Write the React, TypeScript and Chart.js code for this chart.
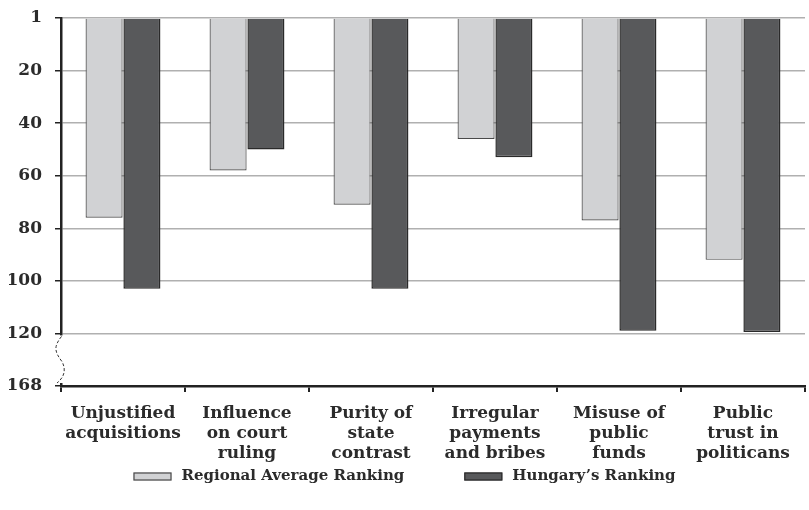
import React, { useEffect, useRef } from "react";
import { Chart, registerables } from "chart.js";

Chart.register(...registerables);

const categories: string[][] = [
  ["Unjustified", "acquisitions"],
  ["Influence", "on court", "ruling"],
  ["Purity of", "state", "contrast"],
  ["Irregular", "payments", "and bribes"],
  ["Misuse of", "public", "funds"],
  ["Public", "trust in", "politicans"],
];

// axis position 0 corresponds to rank "1"; position 140 is the broken-axis end "168"
const regionalAverage: number[] = [76, 58, 71, 46, 77, 92];
const hungaryRanking: number[] = [103, 50, 103, 53, 119, 119.5];

const yTickPositions: number[] = [0, 20, 40, 60, 80, 100, 120, 140];
const yTickLabels: string[] = ["1", "20", "40", "60", "80", "100", "120", "168"];

const seriesLabels: string[] = ["Regional Average Ranking", "Hungary\u2019s Ranking"];

const FONT = "'DejaVu Serif', serif";

const breakPlugin = {
  id: "axisBreak",
  afterDraw(chart: any) {
    const ctx = chart.ctx as CanvasRenderingContext2D;
    const y = chart.scales.y;
    const x0 = chart.chartArea.left;
    const yTop = y.getPixelForValue(120) + 2;
    const yBot = y.getPixelForValue(140) - 3;
    ctx.save();
    ctx.fillStyle = "#ffffff";
    ctx.fillRect(x0 - 3, yTop, 6, yBot - yTop);
    ctx.strokeStyle = "#333333";
    ctx.lineWidth = 1;
    ctx.setLineDash([3, 2]);
    ctx.beginPath();
    const h = yBot - yTop;
    ctx.moveTo(x0 + 0.5, yTop + 1);
    ctx.bezierCurveTo(x0 - 8, yTop + h * 0.25, x0 - 6, yTop + h * 0.35, x0 + 1, yTop + h * 0.55);
    ctx.bezierCurveTo(x0 + 6, yTop + h * 0.75, x0 + 2, yTop + h * 0.9, x0 - 4, yBot);
    ctx.stroke();
    ctx.restore();
  },
};

const legendPlugin = {
  id: "customLegend",
  afterDraw(chart: any) {
    const ctx = chart.ctx as CanvasRenderingContext2D;
    const ds = chart.data.datasets;
    ctx.save();
    ctx.font = `bold 15px ${FONT}`;
    const boxW = 38;
    const boxH = 8;
    const gap = 10;
    const itemGap = 60;
    const widths = ds.map((d: any) => boxW + gap + ctx.measureText(d.label).width);
    const total = widths.reduce((a: number, b: number) => a + b, 0) + itemGap * (ds.length - 1);
    let x = chart.width / 2 - total / 2;
    const cy = 476.5;
    ds.forEach((d: any, i: number) => {
      ctx.fillStyle = d.backgroundColor;
      ctx.fillRect(x, cy - boxH / 2, boxW, boxH);
      ctx.strokeStyle = d.borderColor;
      ctx.lineWidth = 1.2;
      ctx.strokeRect(x + 0.5, cy - boxH / 2 + 0.5, boxW - 1, boxH - 1);
      ctx.fillStyle = "#2b2b2b";
      ctx.textBaseline = "middle";
      ctx.textAlign = "left";
      ctx.fillText(d.label, x + boxW + gap, cy);
      x += widths[i] + itemGap;
    });
    ctx.restore();
  },
};

export default function App() {
  const ref = useRef<HTMLCanvasElement | null>(null);

  useEffect(() => {
    document.body.style.margin = "0";
    if (!ref.current) return;
    const chart = new Chart(ref.current, {
      type: "bar",
      data: {
        labels: categories,
        datasets: [
          {
            label: seriesLabels[0],
            data: regionalAverage,
            backgroundColor: "#d1d2d4",
            borderColor: "#4a4a4a",
            borderWidth: 1.2,
            categoryPercentage: 0.61,
            barPercentage: 0.98,
          },
          {
            label: seriesLabels[1],
            data: hungaryRanking,
            backgroundColor: "#58595b",
            borderColor: "#2a2a2a",
            borderWidth: 1.5,
            categoryPercentage: 0.61,
            barPercentage: 0.98,
          },
        ],
      },
      options: {
        responsive: false,
        animation: false,
        layout: { padding: { left: 9, right: 4, top: 18, bottom: 38 } },
        plugins: {
          legend: { display: false },
          tooltip: { enabled: false },
        },
        scales: {
          x: {
            offset: true,
            afterFit(scale: any) {
              scale.height = 86;
              scale.paddingLeft = 0;
              scale.paddingRight = 0;
            },
            grid: {
              display: true,
              drawOnChartArea: false,
              drawTicks: true,
              tickLength: 6,
              tickColor: "#222222",
              lineWidth: 2,
              offset: true,
            },
            border: { color: "#222222", width: 2.5 },
            ticks: {
              color: "#2b2b2b",
              maxRotation: 0,
              autoSkip: false,
              padding: 11,
              font: { family: FONT, size: 17, weight: "bold", lineHeight: 1.2 },
            },
          },
          y: {
            reverse: true,
            min: 0,
            max: 140,
            afterFit(scale: any) {
              scale.width = 52;
              scale.paddingTop = 0;
              scale.paddingBottom = 0;
            },
            afterBuildTicks(scale: any) {
              scale.ticks = yTickPositions.map((v) => ({ value: v }));
            },
            grid: {
              color: "#b0b0b0",
              lineWidth: 1.5,
              tickColor: "#222222",
              tickLength: 6,
            },
            border: { color: "#222222", width: 2.5 },
            ticks: {
              color: "#2b2b2b",
              padding: 13,
              font: { family: FONT, size: 17, weight: "bold" },
              callback: (v: any) => {
                const i = yTickPositions.indexOf(Number(v));
                return i >= 0 ? yTickLabels[i] : "";
              },
            },
          },
        },
      },
      plugins: [breakPlugin, legendPlugin],
    } as any);
    return () => chart.destroy();
  }, []);

  return (
    <div style={{ width: 809, height: 510 }}>
      <canvas ref={ref} width={809} height={510} style={{ display: "block" }} />
    </div>
  );
}
